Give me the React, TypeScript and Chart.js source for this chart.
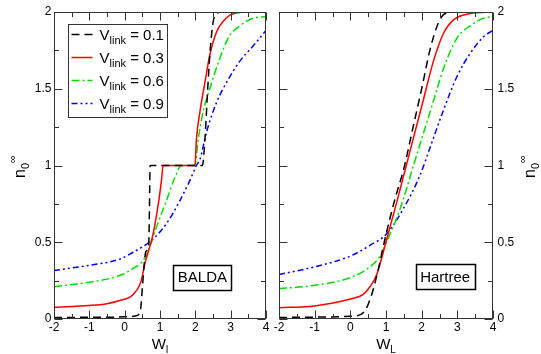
import React, { useEffect, useRef } from 'react';
import { Chart, registerables } from 'chart.js';

Chart.register(...registerables);

const FONT = '"Liberation Sans", Arial, Helvetica, sans-serif';

const seriesLabels = ['0.1', '0.3', '0.6', '0.9'];
const seriesColors = ['#000000', '#ff0000', '#00e000', '#0000ff'];
const seriesDash: number[][] = [[8, 5], [], [8, 3, 2, 3], [6, 3, 2, 3, 2, 3]];

const xTickValues = [-2, -1, 0, 1, 2, 3, 4];
const xTickLabels = ['-2', '-1', '0', '1', '2', '3', '4'];
const xMinorValues = [-1.5, -0.5, 0.5, 1.5, 2.5, 3.5];
const yTickValues = [0, 0.5, 1, 1.5, 2];
const yTickLabels = ['0', '0.5', '1', '1.5', '2'];
const yMinorValues = [0.25, 0.75, 1.25, 1.75];

// ---- BALDA panel (left) ----
const baldaW1 = [-2, -1, 0, 0.3, 0.4, 0.45, 0.5, 0.55, 0.6, 0.68, 0.7, 0.72, 1.5, 2.2, 2.28, 2.35, 2.42, 2.5, 2.6, 2.75, 4];
const baldaN1 = [0.01, 0.011, 0.014, 0.02, 0.03, 0.06, 0.2, 0.35, 0.44, 0.48, 0.7, 1.0, 1.0, 1.0, 1.2, 1.5, 1.75, 1.93, 1.99, 2.0, 2.0];

const baldaW3 = [-2, -1, -0.5, -0.14, 0.24, 0.47, 0.57, 0.71, 0.8, 0.94, 1.04, 1.09, 1.99, 2.03, 2.13, 2.27, 2.41, 2.6, 2.79, 2.98, 3.45, 4];
const baldaN3 = [0.077, 0.088, 0.1, 0.12, 0.16, 0.25, 0.36, 0.47, 0.55, 0.73, 0.9, 1.0, 1.0, 1.17, 1.35, 1.54, 1.72, 1.87, 1.94, 1.98, 2.0, 2.0];

const baldaW6 = [-2, -1, -0.14, 0.24, 0.52, 0.71, 0.9, 1.18, 1.42, 1.61, 1.99, 2.08, 2.22, 2.41, 2.65, 2.93, 3.26, 3.64, 4];
const baldaN6 = [0.21, 0.24, 0.283, 0.33, 0.38, 0.47, 0.6, 0.77, 0.92, 1.0, 1.0, 1.17, 1.35, 1.5, 1.67, 1.83, 1.91, 1.96, 1.97];

const baldaW9 = [-2, -1, -0.14, 0.24, 0.57, 0.8, 1.18, 1.56, 1.84, 2.03, 2.13, 2.32, 2.6, 2.93, 3.26, 3.64, 4];
const baldaN9 = [0.316, 0.35, 0.39, 0.435, 0.48, 0.52, 0.62, 0.77, 0.9, 1.0, 1.04, 1.22, 1.41, 1.56, 1.68, 1.78, 1.88];

// ---- Hartree panel (right) ----
const hartW1 = [-2, -1, 0, 0.3, 0.45, 0.6, 0.75, 1.0, 1.25, 1.5, 1.75, 2.0, 2.24, 2.47, 2.66, 3, 4];
const hartN1 = [0.01, 0.012, 0.018, 0.03, 0.07, 0.16, 0.29, 0.55, 0.78, 0.98, 1.24, 1.5, 1.76, 1.93, 1.99, 2.0, 2.0];

const hartW3 = [-2, -1, 0, 0.36, 0.55, 0.74, 1.02, 1.3, 1.49, 1.77, 2.05, 2.33, 2.61, 2.9, 3.36, 4];
const hartN3 = [0.073, 0.085, 0.13, 0.16, 0.21, 0.29, 0.52, 0.76, 0.93, 1.18, 1.43, 1.68, 1.86, 1.95, 1.99, 2.0];

const hartW6 = [-2, -1, 0, 0.55, 0.83, 1.07, 1.4, 1.77, 2.05, 2.33, 2.61, 2.99, 3.36, 3.74, 4];
const hartN6 = [0.197, 0.22, 0.27, 0.34, 0.41, 0.53, 0.72, 1.0, 1.21, 1.42, 1.63, 1.83, 1.91, 1.96, 1.97];

const hartW9 = [-2, -1, 0, 0.55, 1.02, 1.49, 1.96, 2.24, 2.61, 2.99, 3.36, 3.74, 4];
const hartN9 = [0.29, 0.34, 0.41, 0.48, 0.555, 0.72, 0.94, 1.12, 1.36, 1.58, 1.73, 1.84, 1.88];

const baldaSeries = [[baldaW1, baldaN1], [baldaW3, baldaN3], [baldaW6, baldaN6], [baldaW9, baldaN9]];
const hartSeries = [[hartW1, hartN1], [hartW3, hartN3], [hartW6, hartN6], [hartW9, hartN9]];

type PanelCfg = {
  side: 'left' | 'right';
  xSub: string;
  boxText: string;
  boxX: number;
  boxY: number;
  showLegend: boolean;
};

function drawParts(ctx: CanvasRenderingContext2D, parts: { t: string; s: number; dy: number }[], x: number, y: number, center: boolean) {
  let total = 0;
  for (const p of parts) {
    ctx.font = `${p.s}px ${FONT}`;
    total += ctx.measureText(p.t).width;
  }
  let cx = center ? x - total / 2 : x;
  ctx.textAlign = 'left';
  ctx.textBaseline = 'alphabetic';
  for (const p of parts) {
    ctx.font = `${p.s}px ${FONT}`;
    ctx.fillText(p.t, cx, y + p.dy);
    cx += ctx.measureText(p.t).width;
  }
}

function makePlugin(cfg: PanelCfg) {
  return {
    id: 'panelDecor',
    afterDraw(chart: any) {
      const ctx: CanvasRenderingContext2D = chart.ctx;
      const a = chart.chartArea;
      const xs = chart.scales.x;
      const ys = chart.scales.y;
      const L = Math.round(a.left) + 0.5;
      const R = Math.round(a.right) - 0.5;
      const T = Math.round(a.top) + 0.5;
      const B = Math.round(a.bottom) - 0.5;
      const line = (x1: number, y1: number, x2: number, y2: number) => {
        ctx.beginPath();
        ctx.moveTo(x1, y1);
        ctx.lineTo(x2, y2);
        ctx.stroke();
      };
      ctx.save();
      ctx.strokeStyle = '#333';
      ctx.lineWidth = 1;
      ctx.setLineDash([]);
      ctx.strokeRect(L, T, R - L, B - T);
      const MAJ = 8, MIN = 4.5;
      for (const v of xTickValues) {
        const px = Math.round(xs.getPixelForValue(v)) + 0.5;
        line(px, B, px, B - MAJ);
        line(px, T, px, T + MAJ);
      }
      for (const v of xMinorValues) {
        const px = Math.round(xs.getPixelForValue(v)) + 0.5;
        line(px, B, px, B - MIN);
        line(px, T, px, T + MIN);
      }
      for (const v of yTickValues) {
        const py = Math.round(ys.getPixelForValue(v)) + 0.5;
        line(L, py, L + MAJ, py);
        line(R, py, R - MAJ, py);
      }
      for (const v of yMinorValues) {
        const py = Math.round(ys.getPixelForValue(v)) + 0.5;
        line(L, py, L + MIN, py);
        line(R, py, R - MIN, py);
      }
      // tick labels
      ctx.fillStyle = '#000';
      ctx.font = `12px ${FONT}`;
      ctx.textAlign = 'center';
      ctx.textBaseline = 'middle';
      xTickValues.forEach((v, i) => {
        ctx.fillText(xTickLabels[i], xs.getPixelForValue(v), B + 9);
      });
      ctx.textAlign = cfg.side === 'left' ? 'right' : 'left';
      yTickValues.forEach((v, i) => {
        const px = cfg.side === 'left' ? L - 3 : R + 5;
        ctx.fillText(yTickLabels[i], px, ys.getPixelForValue(v));
      });
      // x title
      const xc = (a.left + a.right) / 2;
      drawParts(ctx, [
        { t: 'W', s: 15, dy: 0 },
        { t: cfg.xSub, s: 10, dy: 4 },
      ], xc, B + 30, true);
      // y title (rotated)
      const yc = (a.top + a.bottom) / 2 + 1;
      const tx = cfg.side === 'left' ? 25 : 535;
      ctx.save();
      ctx.translate(tx, yc);
      ctx.rotate(-Math.PI / 2);
      drawParts(ctx, [
        { t: 'n', s: 16, dy: 0 },
        { t: '0', s: 11, dy: 4 },
        { t: '\u221E', s: 11, dy: -9 },
      ], 0, 0, true);
      ctx.restore();
      // label box
      ctx.font = `15px ${FONT}`;
      const tw = ctx.measureText(cfg.boxText).width;
      const bx = xs.getPixelForValue(cfg.boxX);
      const by = ys.getPixelForValue(cfg.boxY);
      const bw = tw + 9, bh = 24.5;
      ctx.strokeStyle = '#000';
      ctx.lineWidth = 1.5;
      ctx.strokeRect(Math.round(bx - bw / 2) + 0.5, Math.round(by - bh / 2) + 0.5, Math.round(bw), Math.round(bh));
      ctx.textAlign = 'center';
      ctx.textBaseline = 'middle';
      ctx.fillText(cfg.boxText, bx, by + 1);
      // legend
      if (cfg.showLegend) {
        const lx = a.left + 13.5;
        const ly = a.top + 11.5;
        ctx.lineWidth = 1;
        ctx.strokeStyle = '#333';
        ctx.strokeRect(Math.round(lx) + 0.5, Math.round(ly) + 0.5, 99, 93);
        seriesLabels.forEach((lab, i) => {
          const base = ly + 16 + i * 23;
          ctx.strokeStyle = seriesColors[i];
          ctx.lineWidth = 1.5;
          ctx.setLineDash(seriesDash[i]);
          line(lx + 4, base - 5, lx + 25, base - 5);
          ctx.setLineDash([]);
          ctx.fillStyle = '#000';
          drawParts(ctx, [
            { t: 'V', s: 15, dy: 0 },
            { t: 'link', s: 11, dy: 4 },
            { t: ' = ' + lab, s: 15, dy: 0 },
          ], lx + 32, base, false);
        });
      }
      ctx.restore();
    },
  };
}

function makeConfig(series: number[][][], cfg: PanelCfg, padding: any): any {
  return {
    type: 'line',
    data: {
      datasets: series.map(([w, n], i) => ({
        label: 'V_link = ' + seriesLabels[i],
        data: w.map((x, j) => ({ x, y: n[j] })),
        borderColor: seriesColors[i],
        borderWidth: 1.5,
        borderDash: seriesDash[i],
        pointRadius: 0,
        fill: false,
        cubicInterpolationMode: 'monotone',
      })),
    },
    options: {
      animation: false,
      responsive: false,
      maintainAspectRatio: false,
      devicePixelRatio: 1,
      layout: { padding },
      scales: {
        x: { type: 'linear', min: -2, max: 4, display: false },
        y: { type: 'linear', min: 0, max: 2, display: false },
      },
      plugins: { legend: { display: false }, tooltip: { enabled: false } },
    },
    plugins: [makePlugin(cfg)],
  };
}

export default function App() {
  const leftRef = useRef<HTMLCanvasElement>(null);
  const rightRef = useRef<HTMLCanvasElement>(null);
  useEffect(() => {
    document.body.style.margin = '0';
    const c1 = new Chart(leftRef.current as HTMLCanvasElement, makeConfig(baldaSeries, {
      side: 'left', xSub: 'l', boxText: 'BALDA', boxX: 2.2, boxY: 0.272, showLegend: true,
    }, { left: 54, top: 12, right: 275, bottom: 35 }));
    const c2 = new Chart(rightRef.current as HTMLCanvasElement, makeConfig(hartSeries, {
      side: 'right', xSub: 'L', boxText: 'Hartree', boxX: 2.66, boxY: 0.276, showLegend: false,
    }, { left: 279, top: 12, right: 48, bottom: 35 }));
    return () => {
      c1.destroy();
      c2.destroy();
    };
  }, []);
  return (
    <div style={{ position: 'relative', width: 541, height: 354, background: '#fff' }}>
      <canvas ref={leftRef} width={541} height={354} style={{ position: 'absolute', left: 0, top: 0 }} />
      <canvas ref={rightRef} width={541} height={354} style={{ position: 'absolute', left: 0, top: 0 }} />
    </div>
  );
}
